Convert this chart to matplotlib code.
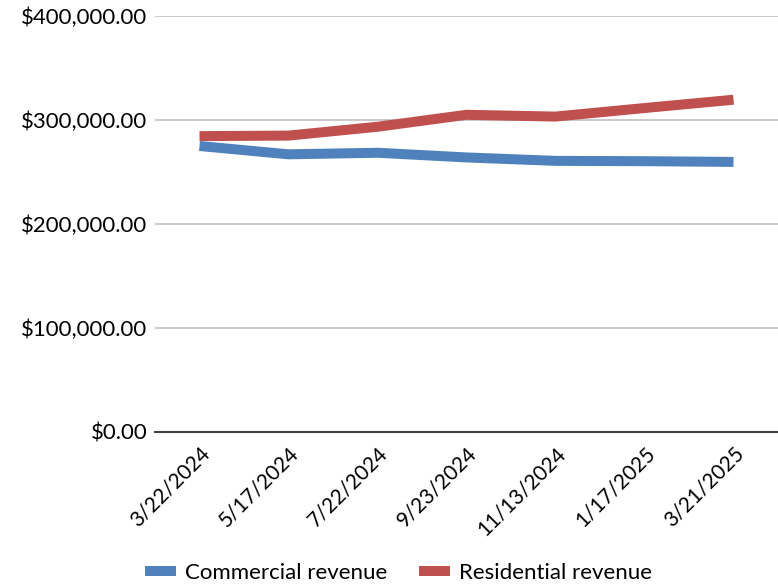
import matplotlib
matplotlib.use('Agg')
import matplotlib.pyplot as plt
from matplotlib.ticker import FuncFormatter

plt.rcParams['font.family'] = ['Lato', 'DejaVu Sans']

# revenue by report date
dates = ['3/22/2024', '5/17/2024', '7/22/2024', '9/23/2024',
         '11/13/2024', '1/17/2025', '3/21/2025']
commercial = [275000, 267000, 268500, 264000, 260700, 260400, 259700]
residential = [284500, 285000, 293500, 305000, 303300, 311500, 319500]

blue = '#4F81BD'
red = '#C0504D'

fig = plt.figure(figsize=(7.78, 5.85), dpi=100)
ax = fig.add_axes([155 / 778, 1 - 432 / 585, 623 / 778, 416 / 585])

x = range(len(dates))
ax.plot(x, commercial, color=blue, lw=7.2, solid_capstyle='butt',
        solid_joinstyle='round', label='Commercial revenue')
ax.plot(x, residential, color=red, lw=7.2, solid_capstyle='butt',
        solid_joinstyle='round', label='Residential revenue')

ax.set_xlim(-0.5, len(dates) - 0.5)
ax.set_ylim(0, 400000)
ax.set_yticks([0, 100000, 200000, 300000, 400000])
ax.yaxis.set_major_formatter(FuncFormatter(lambda v, p: f'${v:,.2f}'))
ax.grid(axis='y', color='#C0C0C0', lw=1.2)
ax.set_axisbelow(True)

for s in ['left', 'right', 'top']:
    ax.spines[s].set_visible(False)
ax.spines['bottom'].set_color('#404040')
ax.spines['bottom'].set_linewidth(1.5)

ax.set_xticks(list(x))
ax.set_xticklabels(dates, rotation=45, ha='right', va='top',
                   rotation_mode='anchor')
ax.tick_params(axis='x', length=0, labelsize=15, colors='black', pad=8)
ax.tick_params(axis='y', length=0, labelsize=16, colors='black', pad=5.5)

fig.legend(loc='lower center', bbox_to_anchor=(0.512, -0.03), ncol=2,
           frameon=False, fontsize=16, handlelength=1.4, columnspacing=1.45,
           handletextpad=0.4)

fig.savefig('out.png', dpi=100)
